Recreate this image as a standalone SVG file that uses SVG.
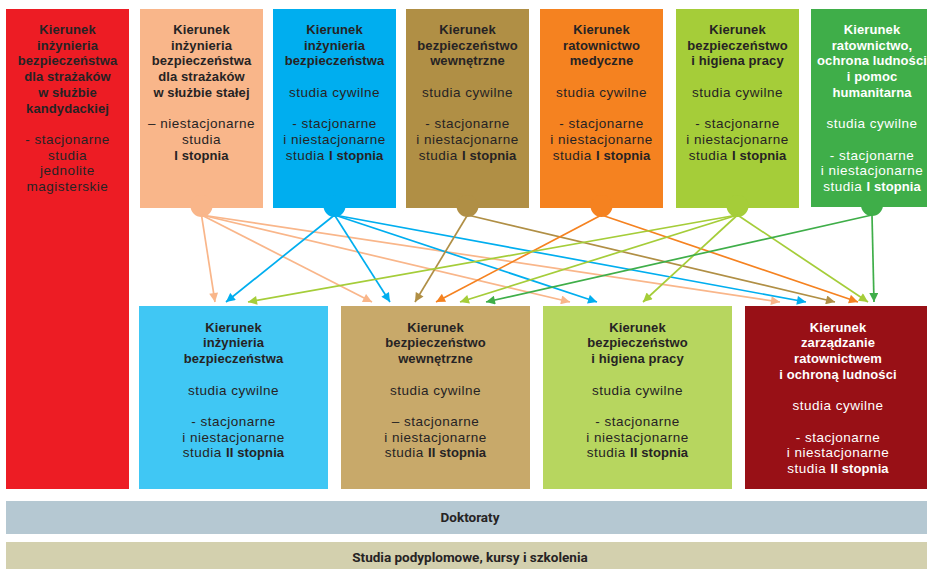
<svg xmlns="http://www.w3.org/2000/svg" width="927" height="569" viewBox="0 0 927 569">
<style>
text{font-family:"Liberation Sans",Arial,sans-serif;font-size:13.5px;letter-spacing:0.5px;text-anchor:middle;fill:#262324}
.b{font-weight:700;font-size:13px;letter-spacing:0.1px}
.w text,.w{fill:#ffffff}
.bar{font-family:Roboto,"Liberation Sans",sans-serif;font-weight:700;font-size:13.5px;letter-spacing:0}
.c line{stroke-width:1.7;fill:none}
</style>
<defs>
<marker id="mP" viewBox="0 0 10 10" refX="10" refY="5" markerWidth="11" markerHeight="9" markerUnits="userSpaceOnUse" orient="auto"><path d="M0,0L10,5L0,10z" fill="#f9b68a"/></marker>
<marker id="mB" viewBox="0 0 10 10" refX="10" refY="5" markerWidth="11" markerHeight="9" markerUnits="userSpaceOnUse" orient="auto"><path d="M0,0L10,5L0,10z" fill="#00aeef"/></marker>
<marker id="mN" viewBox="0 0 10 10" refX="10" refY="5" markerWidth="11" markerHeight="9" markerUnits="userSpaceOnUse" orient="auto"><path d="M0,0L10,5L0,10z" fill="#b08f45"/></marker>
<marker id="mO" viewBox="0 0 10 10" refX="10" refY="5" markerWidth="11" markerHeight="9" markerUnits="userSpaceOnUse" orient="auto"><path d="M0,0L10,5L0,10z" fill="#f58220"/></marker>
<marker id="mL" viewBox="0 0 10 10" refX="10" refY="5" markerWidth="11" markerHeight="9" markerUnits="userSpaceOnUse" orient="auto"><path d="M0,0L10,5L0,10z" fill="#a5cd39"/></marker>
<marker id="mG" viewBox="0 0 10 10" refX="10" refY="5" markerWidth="11" markerHeight="9" markerUnits="userSpaceOnUse" orient="auto"><path d="M0,0L10,5L0,10z" fill="#3fae49"/></marker>
</defs>
<rect width="927" height="569" fill="#ffffff"/>

<g id="n-red">
<rect x="6" y="9" width="123" height="480" fill="#ed1c24"/>
<text x="67.5" y="34" class="b">Kierunek</text>
<text x="67.5" y="49.7" class="b">inżynieria</text>
<text x="67.5" y="65.4" class="b">bezpieczeństwa</text>
<text x="67.5" y="81.1" class="b">dla strażaków</text>
<text x="67.5" y="96.8" class="b">w służbie</text>
<text x="67.5" y="112.5" class="b">kandydackiej</text>
<text x="67.5" y="143.9">- stacjonarne</text>
<text x="67.5" y="159.6">studia</text>
<text x="67.5" y="175.3">jednolite</text>
<text x="67.5" y="191">magisterskie</text>
</g>

<g id="n-peach">
<rect x="140" y="9" width="123" height="199" fill="#f9b68a"/>
<circle cx="201.5" cy="206" r="11" fill="#f9b68a"/>
<text x="201.5" y="34" class="b">Kierunek</text>
<text x="201.5" y="49.7" class="b">inżynieria</text>
<text x="201.5" y="65.4" class="b">bezpieczeństwa</text>
<text x="201.5" y="81.1" class="b">dla strażaków</text>
<text x="201.5" y="96.8" class="b">w służbie stałej</text>
<text x="201.5" y="128.2">– niestacjonarne</text>
<text x="201.5" y="143.9">studia</text>
<text x="201.5" y="159.6" class="b">I stopnia</text>
</g>

<g id="n-blue">
<rect x="273" y="9" width="123" height="199" fill="#00aeef"/>
<circle cx="334.5" cy="206" r="11" fill="#00aeef"/>
<text x="334.5" y="34" class="b">Kierunek</text>
<text x="334.5" y="49.7" class="b">inżynieria</text>
<text x="334.5" y="65.4" class="b">bezpieczeństwa</text>
<text x="334.5" y="96.8">studia cywilne</text>
<text x="334.5" y="128.2">- stacjonarne</text>
<text x="334.5" y="143.9">i niestacjonarne</text>
<text x="334.5" y="159.6">studia <tspan class="b">I stopnia</tspan></text>
</g>

<g id="n-brown">
<rect x="406" y="9" width="123" height="199" fill="#b08f45"/>
<circle cx="467.5" cy="206" r="11" fill="#b08f45"/>
<text x="467.5" y="34" class="b">Kierunek</text>
<text x="467.5" y="49.7" class="b">bezpieczeństwo</text>
<text x="467.5" y="65.4" class="b">wewnętrzne</text>
<text x="467.5" y="96.8">studia cywilne</text>
<text x="467.5" y="128.2">- stacjonarne</text>
<text x="467.5" y="143.9">i niestacjonarne</text>
<text x="467.5" y="159.6">studia <tspan class="b">I stopnia</tspan></text>
</g>

<g id="n-orange">
<rect x="540" y="9" width="123" height="199" fill="#f58220"/>
<circle cx="601.5" cy="206" r="11" fill="#f58220"/>
<text x="601.5" y="34" class="b">Kierunek</text>
<text x="601.5" y="49.7" class="b">ratownictwo</text>
<text x="601.5" y="65.4" class="b">medyczne</text>
<text x="601.5" y="96.8">studia cywilne</text>
<text x="601.5" y="128.2">- stacjonarne</text>
<text x="601.5" y="143.9">i niestacjonarne</text>
<text x="601.5" y="159.6">studia <tspan class="b">I stopnia</tspan></text>
</g>

<g id="n-lime">
<rect x="676" y="9" width="123" height="199" fill="#a5cd39"/>
<circle cx="737.5" cy="206" r="11" fill="#a5cd39"/>
<text x="737.5" y="34" class="b">Kierunek</text>
<text x="737.5" y="49.7" class="b">bezpieczeństwo</text>
<text x="737.5" y="65.4" class="b">i higiena pracy</text>
<text x="737.5" y="96.8">studia cywilne</text>
<text x="737.5" y="128.2">- stacjonarne</text>
<text x="737.5" y="143.9">i niestacjonarne</text>
<text x="737.5" y="159.6">studia <tspan class="b">I stopnia</tspan></text>
</g>

<g id="n-green" class="w">
<rect x="811" y="9" width="122" height="198" fill="#3fae49"/>
<circle cx="872" cy="205" r="11" fill="#3fae49"/>
<text x="872" y="34" class="b">Kierunek</text>
<text x="872" y="49.7" class="b">ratownictwo,</text>
<text x="872" y="65.4" class="b">ochrona ludności</text>
<text x="872" y="81.1" class="b">i pomoc</text>
<text x="872" y="96.8" class="b">humanitarna</text>
<text x="872" y="128.2">studia cywilne</text>
<text x="872" y="159.6">- stacjonarne</text>
<text x="872" y="175.3">i niestacjonarne</text>
<text x="872" y="191">studia <tspan class="b">I stopnia</tspan></text>
</g>

<g id="n-lightblue">
<rect x="139" y="306" width="189" height="183" fill="#40c7f4"/>
<text x="233.5" y="331.7" class="b">Kierunek</text>
<text x="233.5" y="347.4" class="b">inżynieria</text>
<text x="233.5" y="363.1" class="b">bezpieczeństwa</text>
<text x="233.5" y="394.5">studia cywilne</text>
<text x="233.5" y="425.9">- stacjonarne</text>
<text x="233.5" y="441.6">i niestacjonarne</text>
<text x="233.5" y="457.3">studia <tspan class="b">II stopnia</tspan></text>
</g>

<g id="n-tan">
<rect x="341" y="306" width="189" height="183" fill="#c8a96a"/>
<text x="435.5" y="331.7" class="b">Kierunek</text>
<text x="435.5" y="347.4" class="b">bezpieczeństwo</text>
<text x="435.5" y="363.1" class="b">wewnętrzne</text>
<text x="435.5" y="394.5">studia cywilne</text>
<text x="435.5" y="425.9">– stacjonarne</text>
<text x="435.5" y="441.6">i niestacjonarne</text>
<text x="435.5" y="457.3">studia <tspan class="b">II stopnia</tspan></text>
</g>

<g id="n-lightlime">
<rect x="543" y="306" width="189" height="183" fill="#b7d65f"/>
<text x="637.5" y="331.7" class="b">Kierunek</text>
<text x="637.5" y="347.4" class="b">bezpieczeństwo</text>
<text x="637.5" y="363.1" class="b">i higiena pracy</text>
<text x="637.5" y="394.5">studia cywilne</text>
<text x="637.5" y="425.9">- stacjonarne</text>
<text x="637.5" y="441.6">i niestacjonarne</text>
<text x="637.5" y="457.3">studia <tspan class="b">II stopnia</tspan></text>
</g>

<g id="n-darkred" class="w">
<rect x="745" y="306" width="182" height="183" fill="#981016"/>
<text x="838" y="331.7" class="b">Kierunek</text>
<text x="838" y="347.4" class="b">zarządzanie</text>
<text x="838" y="363.1" class="b">ratownictwem</text>
<text x="838" y="378.8" class="b">i ochroną ludności</text>
<text x="838" y="410.2">studia cywilne</text>
<text x="838" y="441.6">- stacjonarne</text>
<text x="838" y="457.3">i niestacjonarne</text>
<text x="838" y="473">studia <tspan class="b">II stopnia</tspan></text>
</g>

<g id="n-doktoraty">
<rect x="6" y="501" width="921" height="33" fill="#b5c8d2"/>
<text x="470" y="521.5" class="bar">Doktoraty</text>
</g>

<g id="n-podyplomowe">
<rect x="6" y="542" width="921" height="27" fill="#d3d0ae"/>
<text x="470" y="561.5" class="bar">Studia podyplomowe, kursy i szkolenia</text>
</g>

<g id="connectors" class="c">
<g stroke="#f9b68a" marker-end="url(#mP)">
<line x1="201.5" y1="215" x2="215" y2="302"/>
<line x1="201.5" y1="215" x2="372" y2="302"/>
<line x1="201.5" y1="215" x2="570" y2="302"/>
<line x1="201.5" y1="215" x2="780" y2="302"/>
</g>
<g stroke="#00aeef" marker-end="url(#mB)">
<line x1="334.5" y1="215" x2="226" y2="302"/>
<line x1="334.5" y1="215" x2="390" y2="302"/>
<line x1="334.5" y1="215" x2="597" y2="302"/>
<line x1="334.5" y1="215" x2="806" y2="302"/>
</g>
<g stroke="#b08f45" marker-end="url(#mN)">
<line x1="467.5" y1="215" x2="415" y2="302"/>
<line x1="467.5" y1="215" x2="835" y2="302"/>
</g>
<g stroke="#f58220" marker-end="url(#mO)">
<line x1="601.5" y1="215" x2="436" y2="302"/>
<line x1="601.5" y1="215" x2="858" y2="302"/>
</g>
<g stroke="#a5cd39" marker-end="url(#mL)">
<line x1="737.5" y1="215" x2="248" y2="302"/>
<line x1="737.5" y1="215" x2="460" y2="302"/>
<line x1="737.5" y1="215" x2="643" y2="302"/>
<line x1="737.5" y1="215" x2="868" y2="302"/>
</g>
<g stroke="#3fae49" marker-end="url(#mG)">
<line x1="872" y1="215" x2="486" y2="302"/>
<line x1="872" y1="215" x2="874" y2="302"/>
</g>
</g>
</svg>
